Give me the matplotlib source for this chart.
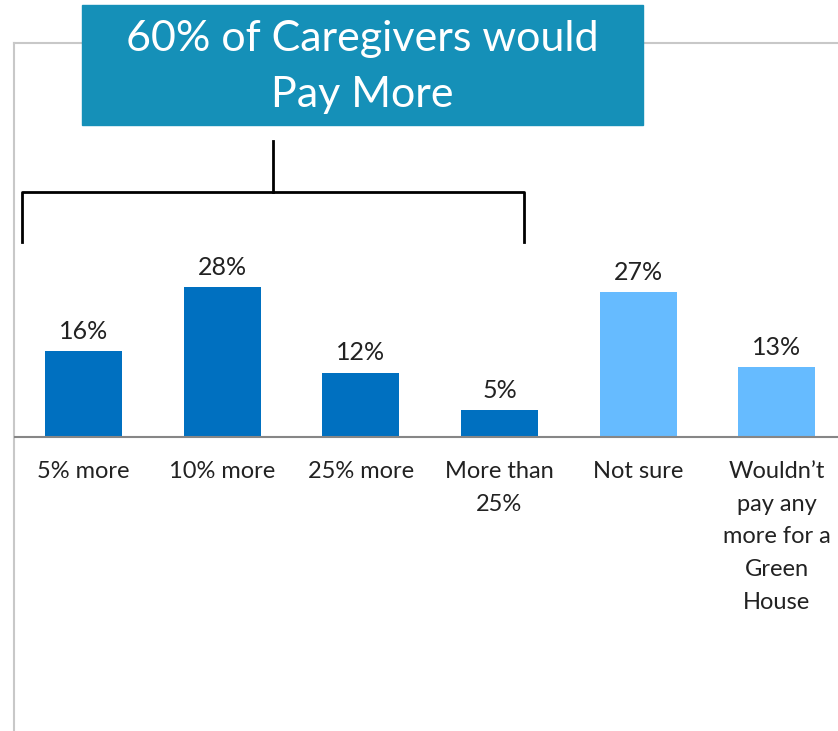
import matplotlib
matplotlib.use("Agg")
import matplotlib.pyplot as plt
from matplotlib.patches import Rectangle

categories = ["5% more", "10% more", "25% more", "More than\n25%", "Not sure",
              "Wouldn\u2019t\npay any\nmore for a\nGreen\nHouse"]
values = [16, 28, 12, 5, 27, 13]
bar_colors = ["#0070c0", "#0070c0", "#0070c0", "#0070c0", "#66bbff", "#66bbff"]
title_text = "60% of Caregivers would\nPay More"

W, H = 838, 731
plt.rcParams['font.family'] = ['Lato', 'DejaVu Sans']

fig = plt.figure(figsize=(W / 100, H / 100), dpi=100)

# main bar axes: left frame at x=14px, top frame at y=43px
ax = fig.add_axes([14 / W, 0, (W - 14) / W, (H - 43) / H])
x = list(range(len(values)))
ax.bar(x, values, width=0.555, color=bar_colors, zorder=2)
ax.set_xlim(-0.5, 5.441)
ax.set_ylim(-54.75, 73.37)
ax.axhline(0, color="#868686", lw=1.5, zorder=3)
for xi, v in zip(x, values):
    ax.text(xi, v + 1.5, f"{v}%", ha="center", va="bottom", fontsize=18, color="#222222")
for xi, lab in zip(x, categories):
    ax.text(xi, -4.4, lab, ha="center", va="top", fontsize=17, color="#222222",
            linespacing=1.7)
ax.set_xticks([])
ax.set_yticks([])
for side in ["right", "bottom"]:
    ax.spines[side].set_visible(False)
for side in ["left", "top"]:
    ax.spines[side].set_color("#c8c8c8")
    ax.spines[side].set_linewidth(1.5)

# overlay in pixel coordinates for the callout box and bracket
ov = fig.add_axes([0, 0, 1, 1], zorder=5)
ov.set_xlim(0, W)
ov.set_ylim(H, 0)
ov.axis("off")
ov.patch.set_alpha(0)
ov.add_patch(Rectangle((82, 5), 561, 120, color="#1590b8"))
ov.text(362.5, 67, title_text, ha="center", va="center", color="white",
        fontsize=31, linespacing=1.6)
ov.plot([273, 273], [141, 192], color="black", lw=2)
ov.plot([22, 22, 524, 524], [242, 192, 192, 242], color="black", lw=2)

fig.savefig("out.png", dpi=100)
